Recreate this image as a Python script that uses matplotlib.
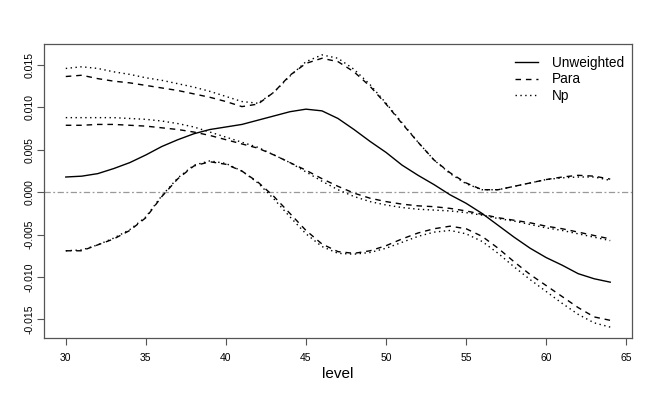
import matplotlib
matplotlib.use("Agg")
import matplotlib.pyplot as plt
import numpy as np

plt.rcParams['font.family'] = ['Liberation Sans', 'DejaVu Sans']

levels = list(range(30, 65))

unweighted = [0.0018, 0.0019, 0.0022, 0.0028, 0.0035, 0.0044, 0.0054, 0.0062, 0.0069, 0.0074,
              0.0077, 0.0080, 0.0085, 0.0090, 0.0095, 0.0098, 0.0096, 0.0087, 0.0074, 0.0060,
              0.0047, 0.0032, 0.0020, 0.0009, -0.0003, -0.0013, -0.0025, -0.0039, -0.0053, -0.0066,
              -0.0077, -0.0086, -0.0096, -0.0102, -0.0106]

para_upper = [0.01365, 0.0138, 0.0134, 0.0131, 0.0129, 0.0126, 0.0123, 0.0120, 0.0116, 0.0112,
              0.0107, 0.0101, 0.0104, 0.0118, 0.0138, 0.0152, 0.0158, 0.0154, 0.0142, 0.0125,
              0.0104, 0.0081, 0.0059, 0.0038, 0.0023, 0.0011, 0.0003, 0.0003, 0.0007, 0.0011,
              0.0015, 0.0018, 0.0020, 0.0019, 0.00155]

para_mid = [0.0079, 0.0079, 0.0080, 0.0080, 0.0079, 0.0078, 0.0076, 0.0074, 0.0071, 0.0067,
            0.0062, 0.0057, 0.0052, 0.0044, 0.0035, 0.0026, 0.0016, 0.0007, -0.0001, -0.0007,
            -0.0011, -0.0014, -0.0016, -0.0017, -0.0019, -0.0022, -0.0026, -0.0030, -0.0033, -0.0036,
            -0.0040, -0.0043, -0.0047, -0.0051, -0.0055]

para_lower = [-0.0069, -0.0069, -0.0062, -0.0055, -0.0045, -0.0030, -0.0005, 0.0016, 0.0031, 0.0036,
              0.0033, 0.0025, 0.0012, -0.0005, -0.0025, -0.0045, -0.0061, -0.0070, -0.0072, -0.0069,
              -0.0063, -0.0055, -0.0048, -0.0043, -0.0040, -0.0043, -0.0052, -0.0066, -0.0082, -0.0097,
              -0.0110, -0.0123, -0.0136, -0.0147, -0.0151]

np_upper = [0.0146, 0.0148, 0.0146, 0.0142, 0.0139, 0.0135, 0.0132, 0.0128, 0.0124, 0.0119,
            0.0113, 0.0107, 0.0105, 0.0118, 0.0137, 0.0154, 0.0162, 0.0158, 0.0145, 0.0127,
            0.0105, 0.0082, 0.0059, 0.0038, 0.0022, 0.0010, 0.0003, 0.0003, 0.0007, 0.0011,
            0.0015, 0.0017, 0.0018, 0.0018, 0.0014]

np_mid = [0.0088, 0.0088, 0.0088, 0.0088, 0.0087, 0.0086, 0.0084, 0.0081, 0.0077, 0.0071,
          0.0065, 0.0059, 0.0053, 0.0044, 0.0035, 0.0024, 0.0013, 0.0003, -0.0005, -0.0011,
          -0.0015, -0.0018, -0.0020, -0.0021, -0.0022, -0.0024, -0.0027, -0.0031, -0.0034, -0.0038,
          -0.0042, -0.0045, -0.0049, -0.0053, -0.0057]

np_lower = [-0.0069, -0.0068, -0.0062, -0.0054, -0.0044, -0.0029, -0.0004, 0.0017, 0.0032, 0.0037,
            0.0034, 0.0025, 0.0011, -0.0008, -0.0029, -0.0049, -0.0064, -0.0072, -0.0073, -0.0071,
            -0.0066, -0.0059, -0.0052, -0.0047, -0.0045, -0.0049, -0.0058, -0.0072, -0.0088, -0.0103,
            -0.0117, -0.0131, -0.0144, -0.0154, -0.0159]

x_ticks = [30, 35, 40, 45, 50, 55, 60, 65]
y_ticks = [-0.015, -0.010, -0.005, 0.000, 0.005, 0.010, 0.015]
y_ticklabels = ["-0.015", "-0.010", "-0.005", "0.000", "0.005", "0.010", "0.015"]

fig = plt.figure(figsize=(6.54, 3.94), dpi=100)
ax = fig.add_axes([44/654, 56/394, (632-44)/654, (338-44)/394])

lw = 1.0
dash = (0, (4, 3.5))
dot = (0, (1, 2.5))
ax.axhline(0, color='#999999', lw=0.9, linestyle=(0, (5, 2, 1.5, 2)), zorder=1)
ax.plot(levels, unweighted, color='black', lw=lw, linestyle='-', label='Unweighted')
ax.plot(levels, para_upper, color='black', lw=lw, linestyle=dash, label='Para')
ax.plot(levels, para_mid, color='black', lw=lw, linestyle=dash)
ax.plot(levels, para_lower, color='black', lw=lw, linestyle=dash)
ax.plot(levels, np_upper, color='black', lw=lw, linestyle=dot, label='Np')
ax.plot(levels, np_mid, color='black', lw=lw, linestyle=dot)
ax.plot(levels, np_lower, color='black', lw=lw, linestyle=dot)

allv = unweighted + para_upper + para_mid + para_lower + np_upper + np_mid + np_lower
ymin, ymax = min(allv), max(allv)
pad = 0.04 * (ymax - ymin)
ax.set_ylim(ymin - pad, ymax + pad)
xpad = 0.04 * (levels[-1] - levels[0])
ax.set_xlim(levels[0] - xpad, levels[-1] + xpad)

ax.set_xticks(x_ticks)
ax.set_yticks(y_ticks)
ax.set_yticklabels(y_ticklabels, rotation=90, va='center')
ax.tick_params(axis='both', direction='out', length=5, width=0.8, labelsize=7.5, color='#555555')
ax.tick_params(axis='x', pad=6)
ax.tick_params(axis='y', pad=2)
for s in ax.spines.values():
    s.set_color('#555555')
    s.set_linewidth(0.9)

ax.set_xlabel('level', fontsize=11, labelpad=3)

leg = ax.legend(loc='upper right', bbox_to_anchor=(0.9937, 0.974), frameon=False, fontsize=9.8,
                handlelength=1.7, handletextpad=1.0, labelspacing=0.2, borderaxespad=0.0,
                borderpad=0.3)

fig.savefig('out.png', dpi=100)
